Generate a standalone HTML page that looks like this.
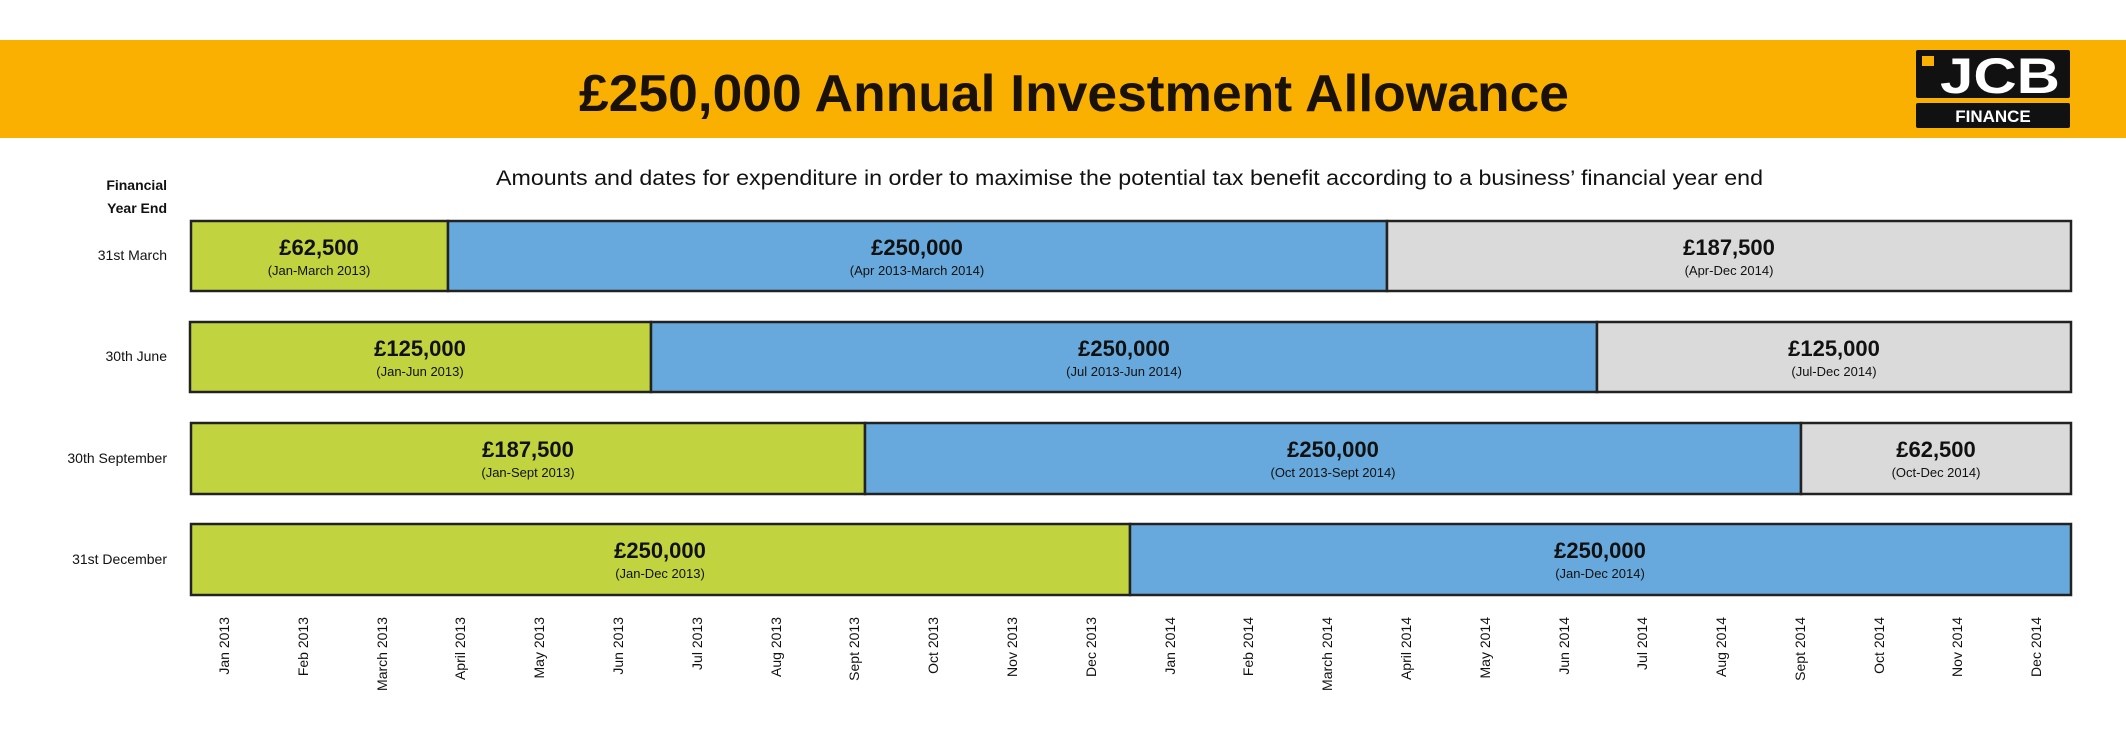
<!DOCTYPE html>
<html><head><meta charset="utf-8"><style>html,body{margin:0;padding:0;background:#fff}svg{display:block}</style></head>
<body>
<svg width="2126" height="749" viewBox="0 0 2126 749" xmlns="http://www.w3.org/2000/svg" font-family="Liberation Sans, sans-serif">
<rect x="0" y="0" width="2126" height="749" fill="#fff"/>
<rect x="0" y="40" width="2126" height="98" fill="#F9B000"/>
<text x="1074" y="111" text-anchor="middle" font-size="52" font-weight="bold" fill="#1a1208" textLength="990" lengthAdjust="spacingAndGlyphs">£250,000 Annual Investment Allowance</text>
<!-- logo -->
<rect x="1916" y="50" width="154" height="48" rx="2" fill="#111"/>
<rect x="1922" y="56" width="12" height="10" fill="#F9B000"/>
<text x="2000" y="93" text-anchor="middle" font-size="50" font-weight="bold" fill="#fff" textLength="120" lengthAdjust="spacingAndGlyphs">JCB</text>
<rect x="1916" y="103" width="154" height="25" rx="2" fill="#111"/>
<text x="1993" y="122" text-anchor="middle" font-size="17" font-weight="bold" fill="#fff">FINANCE</text>
<!-- subtitle -->
<text x="496" y="185" font-size="21" fill="#111" textLength="1267" lengthAdjust="spacingAndGlyphs">Amounts and dates for expenditure in order to maximise the potential tax benefit according to a business’ financial year end</text>
<text x="167" y="190" text-anchor="end" font-size="14" font-weight="bold" fill="#111">Financial</text>
<text x="167" y="213" text-anchor="end" font-size="14" font-weight="bold" fill="#111">Year End</text>
<g font-size="14" fill="#111" text-anchor="end">
<text x="167" y="260">31st March</text>
<text x="167" y="361">30th June</text>
<text x="167" y="463">30th September</text>
<text x="167" y="564">31st December</text>
</g>
<g stroke="#222" stroke-width="2.5">
<!-- row 1 -->
<rect x="191" y="221" width="257" height="70" fill="#C1D43F"/>
<rect x="448" y="221" width="939" height="70" fill="#67A9DC"/>
<rect x="1387" y="221" width="684" height="70" fill="#DADADA"/>
<!-- row 2 -->
<rect x="190" y="322" width="461" height="70" fill="#C1D43F"/>
<rect x="651" y="322" width="946" height="70" fill="#67A9DC"/>
<rect x="1597" y="322" width="474" height="70" fill="#DADADA"/>
<!-- row 3 -->
<rect x="191" y="423" width="674" height="71" fill="#C1D43F"/>
<rect x="865" y="423" width="936" height="71" fill="#67A9DC"/>
<rect x="1801" y="423" width="270" height="71" fill="#DADADA"/>
<!-- row 4 -->
<rect x="191" y="524" width="939" height="71" fill="#C1D43F"/>
<rect x="1130" y="524" width="941" height="71" fill="#67A9DC"/>
</g>
<g text-anchor="middle" fill="#111">
<g font-size="22" font-weight="bold">
<text x="319" y="255">£62,500</text>
<text x="917" y="255">£250,000</text>
<text x="1729" y="255">£187,500</text>
<text x="420" y="356">£125,000</text>
<text x="1124" y="356">£250,000</text>
<text x="1834" y="356">£125,000</text>
<text x="528" y="457">£187,500</text>
<text x="1333" y="457">£250,000</text>
<text x="1936" y="457">£62,500</text>
<text x="660" y="558">£250,000</text>
<text x="1600" y="558">£250,000</text>
</g>
<g font-size="13">
<text x="319" y="275">(Jan-March 2013)</text>
<text x="917" y="275">(Apr 2013-March 2014)</text>
<text x="1729" y="275">(Apr-Dec 2014)</text>
<text x="420" y="376">(Jan-Jun 2013)</text>
<text x="1124" y="376">(Jul 2013-Jun 2014)</text>
<text x="1834" y="376">(Jul-Dec 2014)</text>
<text x="528" y="477">(Jan-Sept 2013)</text>
<text x="1333" y="477">(Oct 2013-Sept 2014)</text>
<text x="1936" y="477">(Oct-Dec 2014)</text>
<text x="660" y="578">(Jan-Dec 2013)</text>
<text x="1600" y="578">(Jan-Dec 2014)</text>
</g>
</g>
<g font-size="14" fill="#111" text-anchor="end">
<text transform="translate(229,617) rotate(-90)">Jan 2013</text>
<text transform="translate(308,617) rotate(-90)">Feb 2013</text>
<text transform="translate(387,617) rotate(-90)">March 2013</text>
<text transform="translate(465,617) rotate(-90)">April 2013</text>
<text transform="translate(544,617) rotate(-90)">May 2013</text>
<text transform="translate(623,617) rotate(-90)">Jun 2013</text>
<text transform="translate(702,617) rotate(-90)">Jul 2013</text>
<text transform="translate(781,617) rotate(-90)">Aug 2013</text>
<text transform="translate(859,617) rotate(-90)">Sept 2013</text>
<text transform="translate(938,617) rotate(-90)">Oct 2013</text>
<text transform="translate(1017,617) rotate(-90)">Nov 2013</text>
<text transform="translate(1096,617) rotate(-90)">Dec 2013</text>
<text transform="translate(1175,617) rotate(-90)">Jan 2014</text>
<text transform="translate(1253,617) rotate(-90)">Feb 2014</text>
<text transform="translate(1332,617) rotate(-90)">March 2014</text>
<text transform="translate(1411,617) rotate(-90)">April 2014</text>
<text transform="translate(1490,617) rotate(-90)">May 2014</text>
<text transform="translate(1569,617) rotate(-90)">Jun 2014</text>
<text transform="translate(1647,617) rotate(-90)">Jul 2014</text>
<text transform="translate(1726,617) rotate(-90)">Aug 2014</text>
<text transform="translate(1805,617) rotate(-90)">Sept 2014</text>
<text transform="translate(1884,617) rotate(-90)">Oct 2014</text>
<text transform="translate(1962,617) rotate(-90)">Nov 2014</text>
<text transform="translate(2041,617) rotate(-90)">Dec 2014</text>
</g>
</svg>
</body></html>
